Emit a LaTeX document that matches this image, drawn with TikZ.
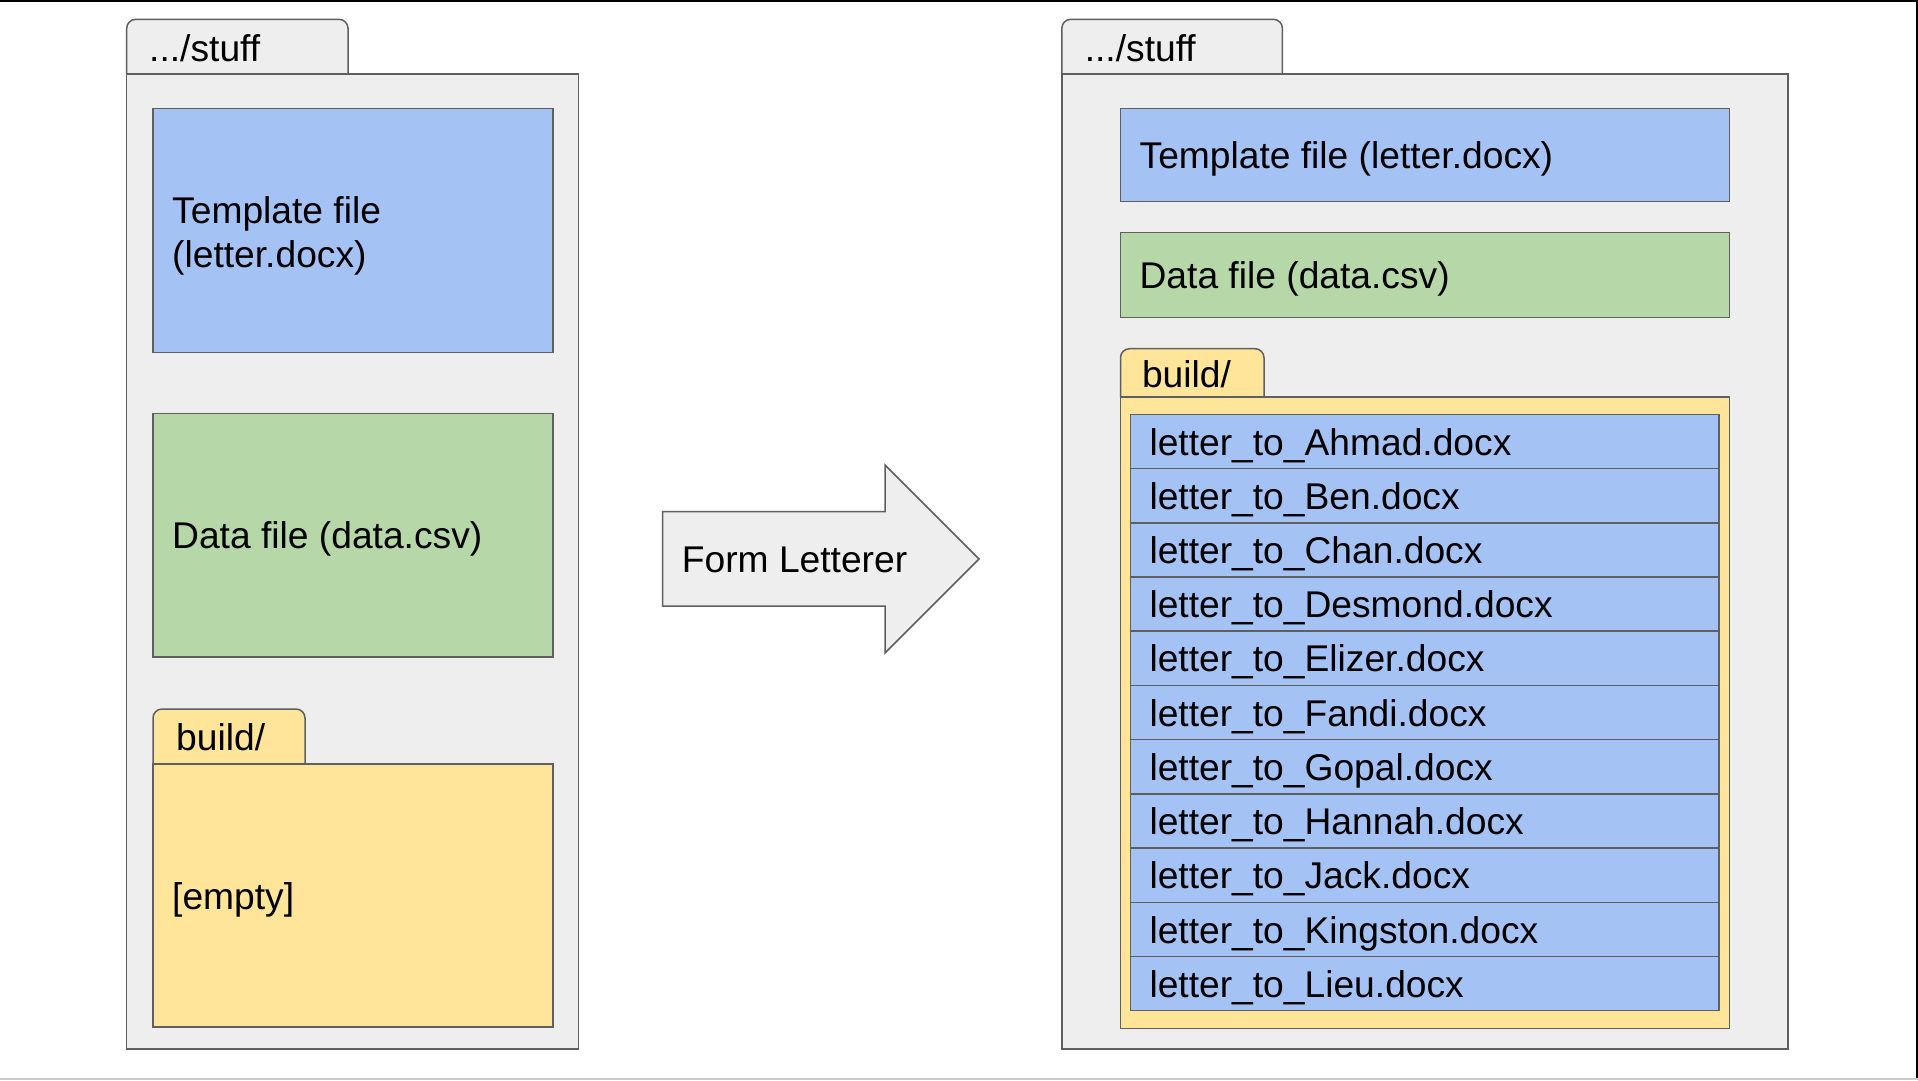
\documentclass[tikz,border=0pt]{standalone}
\usepackage{fontspec}
\setmainfont{Liberation Sans}
\usetikzlibrary{calc}
\definecolor{fgray}{HTML}{EEEEEE}
\definecolor{fblue}{HTML}{A4C2F4}
\definecolor{fgreen}{HTML}{B6D7A8}
\definecolor{fyellow}{HTML}{FFE599}
\definecolor{edgec}{HTML}{5F5F5F}
\definecolor{framegray}{HTML}{CCCCCC}
\tikzset{
  fbox/.style={draw=edgec, line width=1.5pt},
  rbox/.style={fbox, anchor=north west, inner sep=0pt, outer sep=0pt, minimum width=#1},
  lbl/.style={anchor=base west, inner sep=0pt, font=\fontsize{37.2}{44}\selectfont},
}
\begin{document}
\begin{tikzpicture}[x=1pt,y=-1pt]
\useasboundingbox (0,0) rectangle (1918,1080);
% frame lines
\draw[black, line width=1.5pt] (0,0.75) -- (1918,0.75);
\draw[black, line width=2pt] (1917,0) -- (1917,1078);
\draw[framegray, line width=1.5pt] (0,1079.2) -- (1918,1079.2);

% ---------- left folder ----------
\draw[fbox, fill=fgray] (126.7,74) [rounded corners=9pt] -- (126.7,19.3) -- (348,19.3) [sharp corners] -- (348,74) -- cycle;
\node[rbox=452pt, minimum height=975pt, fill=fgray] (bodyL) at (126.7,74) {};
\node[lbl] (stuffL) at (149,61.7) {.../stuff};

\node[rbox=400pt, minimum height=244pt, fill=fblue] (tmplL) at (153,108.7) {};
\node[lbl] (tmplLa) at (172,223) {Template file};
\node[lbl] (tmplLb) at (172,267) {(letter.docx)};

\node[rbox=400pt, minimum height=243.5pt, fill=fgreen] (dataL) at (153,413.5) {};
\node[lbl] (dataLt) at (172,548.8) {Data file (data.csv)};

\draw[fbox, fill=fyellow] (153,764) [rounded corners=9pt] -- (153,709) -- (305,709) [sharp corners] -- (305,764) -- cycle;
\node[rbox=400pt, minimum height=263pt, fill=fyellow] (buildL) at (153,764) {};
\node[lbl] (buildLt) at (176,750.7) {build/};
\node[lbl] (emptyL) at (172,909.2) {[empty]};

% ---------- arrow ----------
\draw[fbox, fill=fgray, line join=miter] (662.7,511.7) -- (885,511.7) -- (885,465) -- (979,559) -- (885,653) -- (885,606) -- (662.7,606) -- cycle;
\node[lbl] (arrowt) at (681.7,572.8) {Form Letterer};

% ---------- right folder ----------
\draw[fbox, fill=fgray] (1061.8,74) [rounded corners=9pt] -- (1061.8,19.3) -- (1282.4,19.3) [sharp corners] -- (1282.4,74) -- cycle;
\node[rbox=726pt, minimum height=975pt, fill=fgray] (bodyR) at (1061.8,74) {};
\node[lbl] (stuffR) at (1084.6,61.7) {.../stuff};

\node[rbox=609pt, minimum height=93pt, fill=fblue] (tmplR) at (1120.5,108.7) {};
\node[lbl] (tmplRt) at (1139.4,168.8) {Template file (letter.docx)};

\node[rbox=609pt, minimum height=85pt, fill=fgreen] (dataR) at (1120.5,232.7) {};
\node[lbl] (dataRt) at (1139.4,288.8) {Data file (data.csv)};

\draw[fbox, fill=fyellow] (1120.5,397) [rounded corners=9pt] -- (1120.5,348.7) -- (1264,348.7) [sharp corners] -- (1264,397) -- cycle;
\node[rbox=609pt, minimum height=631.3pt, fill=fyellow] (buildR) at (1120.5,397) {};
\node[lbl] (buildRt) at (1141.8,387) {build/};

\foreach \nm [count=\i from 0] in {Ahmad,Ben,Chan,Desmond,Elizer,Fandi,Gopal,Hannah,Jack,Kingston,Lieu}{
  \node[rbox=588.2pt, minimum height=54.22pt, fill=fblue] (row\i) at (1130.6,{414.3+\i*54.22}) {};
  \node[lbl] (rowt\i) at (1149.3,{414.3+27.1+13.7+\i*54.22}) {letter\_to\_\nm.docx};
}
\end{tikzpicture}
\end{document}
